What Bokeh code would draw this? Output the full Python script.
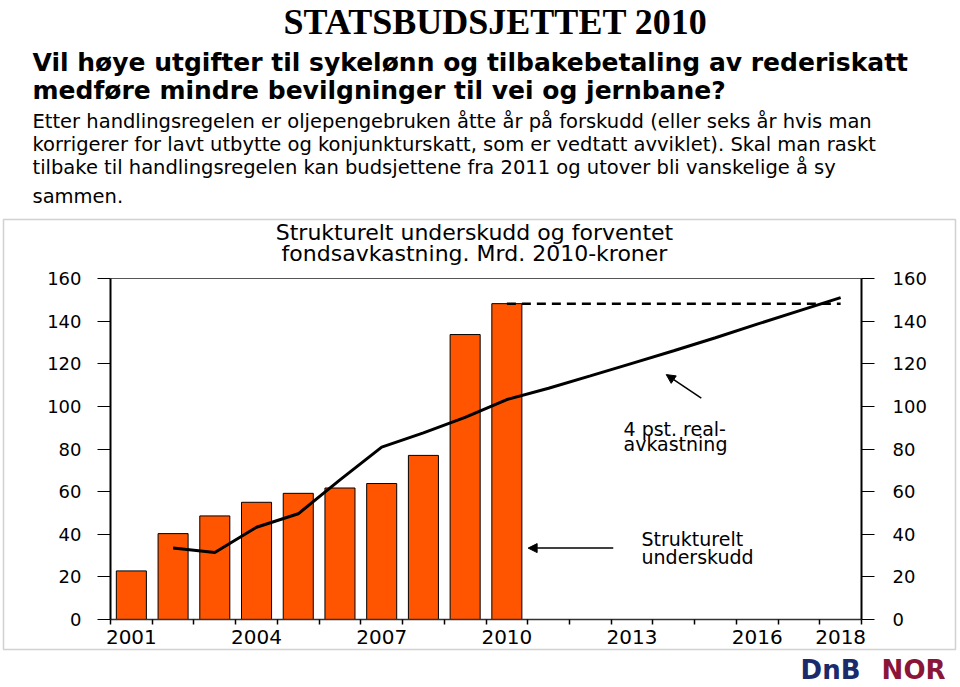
from bokeh.plotting import figure
from bokeh.models import (Range1d, LinearAxis, FixedTicker, Label, Arrow,
                          NormalHead, BoxAnnotation, ColumnDataSource)
from bokeh.embed import file_html
from bokeh.resources import INLINE

# ---------------- data ----------------
bar_years = [2001, 2002, 2003, 2004, 2005, 2006, 2007, 2008, 2009, 2010]
deficit = [22.8, 40.3, 48.6, 55.0, 59.2, 61.7, 63.8, 77.0, 133.7, 148.2]

ret_years = [2002, 2003, 2004, 2005, 2006, 2007, 2008, 2009, 2010,
             2011, 2012, 2013, 2014, 2015, 2016, 2017, 2018]
ret_vals = [33.5, 31.4, 43.3, 49.6, 65.5, 80.9, 87.6, 94.8, 103.2,
            108.5, 114.3, 120.2, 126.1, 132.2, 138.6, 144.8, 151.0]

dash_years = [2010, 2018]
dash_vals = [148.2, 148.2]

x_label_years = [2001, 2004, 2007, 2010, 2013, 2016, 2018]
y_ticks = [0, 20, 40, 60, 80, 100, 120, 140, 160]

header = "STATSBUDSJETTET 2010"
title_lines = ["Vil høye utgifter til sykelønn og tilbakebetaling av rederiskatt",
               "medføre mindre bevilgninger til vei og jernbane?"]
body_lines = ["Etter handlingsregelen er oljepengebruken åtte år på forskudd (eller seks år hvis man",
              "korrigerer for lavt utbytte og konjunkturskatt, som er vedtatt avviklet). Skal man raskt",
              "tilbake til  handlingsregelen kan budsjettene fra 2011 og utover bli vanskelige å sy",
              "sammen."]
chart_title = ["Strukturelt underskudd og forventet", "fondsavkastning. Mrd. 2010-kroner"]

# ---------------- geometry (page pixels) ----------------
W, H = 960, 687
PL, PR, PT, PB = 110, 861, 278, 619      # plot area of the chart
XMIN, XMAX, YMIN, YMAX = 2000.5, 2018.5, 0, 160
kx = (XMAX - XMIN) / (PR - PL)
ky = (YMAX - YMIN) / (PB - PT)

p = figure(width=W, height=H,
           x_range=Range1d(XMIN - PL * kx, XMIN + (W - PL) * kx),
           y_range=Range1d(YMIN - (H - PB) * ky, YMIN + PB * ky),
           output_backend="svg", toolbar_location=None,
           x_axis_location=None, y_axis_location=None,
           min_border=0, min_border_left=0, min_border_right=0,
           min_border_top=0, min_border_bottom=0)
p.xgrid.visible = False
p.ygrid.visible = False
p.background_fill_color = "white"
p.border_fill_color = "white"
p.outline_line_color = None

src_bar = ColumnDataSource(dict(x=bar_years, top=deficit))
p.vbar(x="x", top="top", width=0.72, bottom=0, source=src_bar,
       fill_color="#FF5500", line_color="black", line_width=1)

p.line(ret_years, ret_vals, line_color="black", line_width=3)
p.line(dash_years, dash_vals, line_color="black", line_width=2.5, line_dash="9 6")

# ---------------- axes ----------------
minor = [y - 0.5 for y in range(2001, 2020)]
xa = LinearAxis(fixed_location=YMIN, bounds=(XMIN, XMAX),
                ticker=FixedTicker(ticks=x_label_years, minor_ticks=minor))
xa.major_tick_out = 0
xa.major_tick_in = 0
xa.minor_tick_out = 5
xa.minor_tick_in = 0
xa.minor_tick_line_color = "black"
xa.minor_tick_line_width = 1.5
xa.axis_line_color = "#333333"
xa.axis_line_width = 1.5
xa.major_label_text_font = "DejaVu Sans"
xa.major_label_text_font_size = "20px"
xa.major_label_text_color = "black"
xa.major_label_standoff = 5
p.add_layout(xa, "below")

xt = LinearAxis(fixed_location=YMAX, bounds=(XMIN, XMAX), ticker=FixedTicker(ticks=[]))
xt.major_tick_out = 0
xt.major_tick_in = 0
xt.minor_tick_out = 0
xt.minor_tick_in = 0
xt.major_label_text_font_size = "0px"
xt.axis_line_color = "#555555"
xt.axis_line_width = 1
p.add_layout(xt, "above")

ya = LinearAxis(fixed_location=XMIN, bounds=(YMIN, YMAX))
yr = LinearAxis(fixed_location=XMAX, bounds=(YMIN, YMAX))
p.add_layout(ya, "left")
p.add_layout(yr, "right")
for ax, so in ((ya, 16), (yr, 18)):
    ax.ticker = FixedTicker(ticks=y_ticks)
    ax.major_tick_out = 13
    ax.major_tick_in = 0
    ax.minor_tick_out = 0
    ax.minor_tick_in = 0
    ax.major_tick_line_color = "black"
    ax.major_tick_line_width = 1
    ax.axis_line_color = "black"
    ax.axis_line_width = 2
    ax.major_label_text_font = "DejaVu Sans"
    ax.major_label_text_font_size = "18px"
    ax.major_label_text_color = "black"
    ax.major_label_standoff = so


def lab(text, px, base, size, font="DejaVu Sans", style="normal", align="left",
        color="black"):
    # base = wanted baseline (page px); compensate the renderer's baseline drop
    y = H - (base - 0.4 * size)
    p.add_layout(Label(x=px, y=y, x_units="screen", y_units="screen",
                       text=text, text_font=font, text_font_size=f"{size}px",
                       text_font_style=style, text_align=align,
                       text_baseline="alphabetic", text_color=color))


# chart box
p.add_layout(BoxAnnotation(left=3, right=955, top=H - 219, bottom=H - 649,
                           left_units="screen", right_units="screen",
                           top_units="screen", bottom_units="screen",
                           fill_alpha=0, line_color="#666666", line_width=1.5))

# header texts
lab(header, 495, 36, 36, font="Liberation Serif", style="bold", align="center")
lab(title_lines[0], 32, 71.7, 25, style="bold")
lab(title_lines[1], 32, 100, 25, style="bold")
for t, by in zip(body_lines, [128.3, 151.7, 175, 203.3]):
    lab(t, 32, by, 19.5)

# chart title
lab(chart_title[0], 474, 241, 22, align="center")
lab(chart_title[1], 474, 261.5, 22, align="center")

# in-plot annotations
lab("4 pst. real-", 623, 436, 19)
lab("avkastning", 623, 451, 19)
lab("Strukturelt", 641, 546, 19)
lab("underskudd", 641, 564, 19)

p.add_layout(Arrow(end=NormalHead(size=9, fill_color="black", line_color="black"),
                   x_start=2014.66, y_start=103.9, x_end=2013.82, y_end=114.9,
                   line_color="black", line_width=1.5))
p.add_layout(Arrow(end=NormalHead(size=9, fill_color="black", line_color="black"),
                   x_start=2012.55, y_start=33.5, x_end=2010.51, y_end=33.5,
                   line_color="black", line_width=1.5))

# logo
lab("DnB", 860, 680, 26, style="bold", align="right", color="#1B2A6B")
lab("NOR", 945, 680, 26, style="bold", align="right", color="#8A1538")

open("out.html", "w").write(file_html(p, INLINE))
